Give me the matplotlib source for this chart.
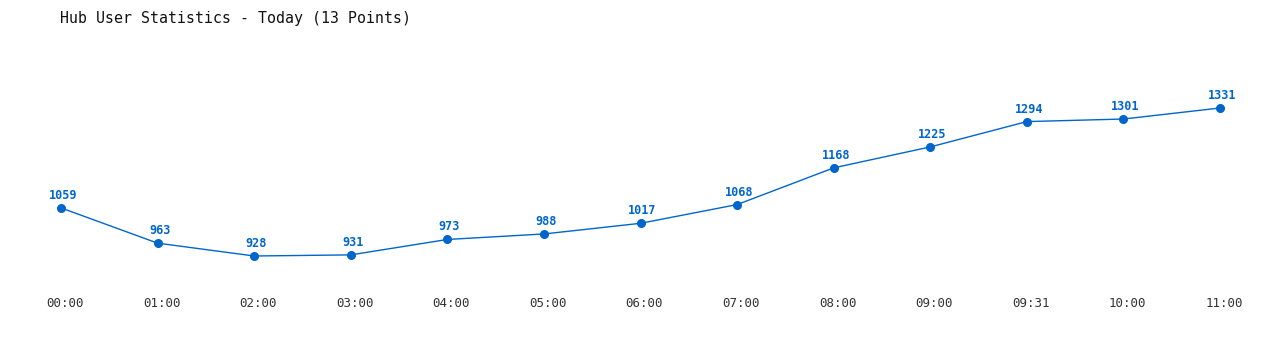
import matplotlib
matplotlib.use("Agg")
import matplotlib.pyplot as plt
import matplotlib.transforms as mtransforms

times = ["00:00", "01:00", "02:00", "03:00", "04:00", "05:00", "06:00",
         "07:00", "08:00", "09:00", "09:31", "10:00", "11:00"]
users = [1059, 963, 928, 931, 973, 988, 1017, 1068, 1168, 1225, 1294, 1301, 1331]

W, H = 1280, 350
fig = plt.figure(figsize=(W / 100, H / 100), dpi=100)
fig.patch.set_facecolor("white")

left_px, right_px = 61, 1220
top_px, bot_px = 40, 290
ax = fig.add_axes([left_px / W, (H - bot_px) / H, (right_px - left_px) / W, (bot_px - top_px) / H])
ax.set_facecolor("white")

color = "#0066cc"
xs = list(range(len(times)))
ax.plot(xs, users, color=color, linewidth=1.0, marker="o", markersize=5.5,
        clip_on=False, zorder=3)
for x, v in zip(xs, users):
    ax.annotate(str(v), (x, v), xytext=(2, 12.5), textcoords="offset pixels",
                ha="center", va="center", color=color, fontsize=8.5,
                fontweight="bold", family="DejaVu Sans Mono")

ax.set_xlim(0, len(times) - 1)
ax.set_ylim(835.4, 1516.2)
ax.set_xticks(xs)
ax.set_xticklabels(times, family="DejaVu Sans Mono", fontsize=9, color="#333333")
ax.tick_params(axis="x", length=0, pad=5)
shift = mtransforms.ScaledTranslation(4 / 100, 0, fig.dpi_scale_trans)
for lbl in ax.get_xticklabels():
    lbl.set_transform(lbl.get_transform() + shift)
ax.set_yticks([])
for s in ax.spines.values():
    s.set_visible(False)

fig.text(60 / W, 1 - 18 / H, "Hub User Statistics - Today (13 Points)",
         ha="left", va="center", family="DejaVu Sans Mono", fontsize=10.7,
         color="#111111")

fig.savefig("out.png", dpi=100, facecolor="white")
